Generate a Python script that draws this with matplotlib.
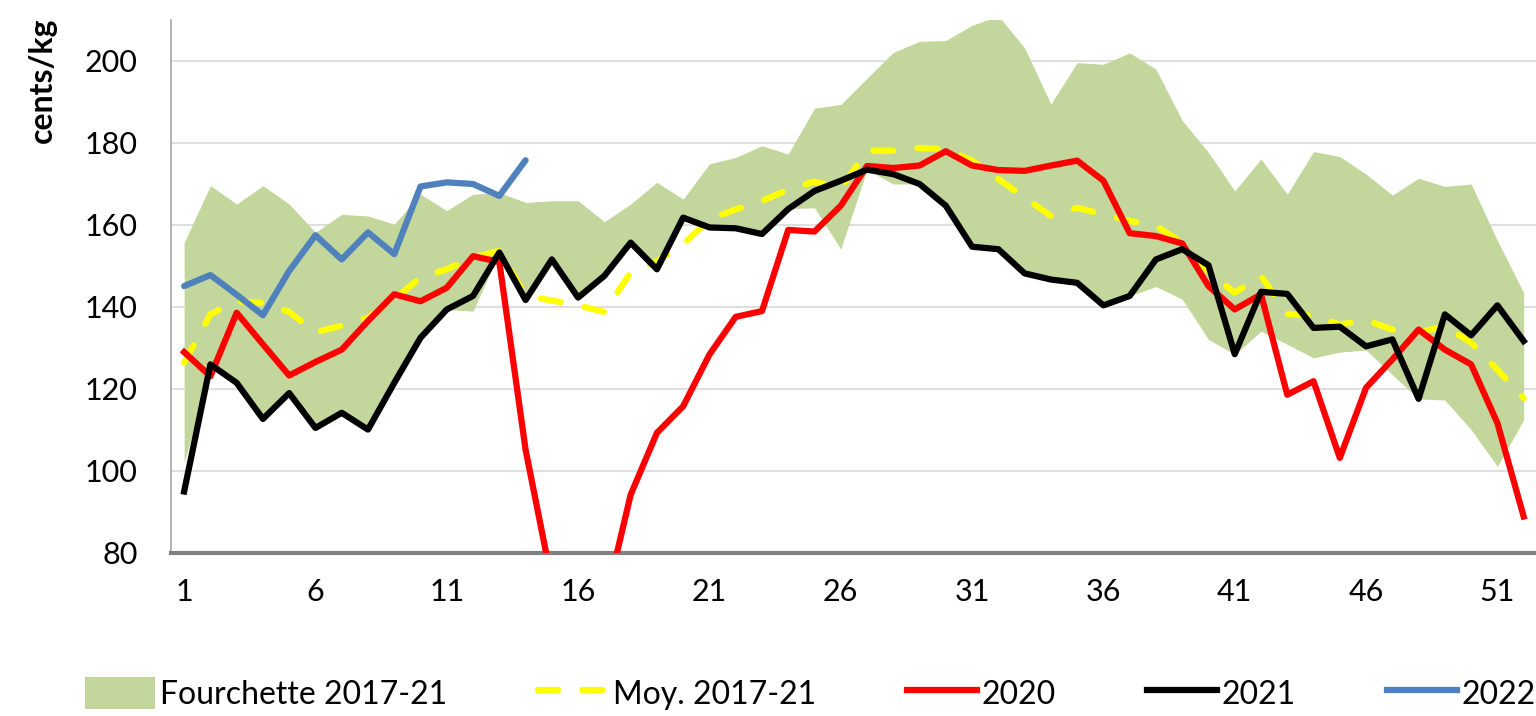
import numpy as np
import matplotlib
matplotlib.use("Agg")
import matplotlib.pyplot as plt
from matplotlib.patches import Patch
from matplotlib.lines import Line2D

plt.rcParams['font.family'] = ['Lato', 'DejaVu Sans']

# semaines
weeks = np.arange(1, 53)

# fourchette 2017-21 (max / min)
band_max = [155.7, 169.6, 165.1, 169.6, 165.1, 158.2, 162.6, 162.2, 160.2, 167.5,
            163.5, 167.5, 167.9, 165.5, 165.9, 165.9, 160.8, 165.1, 170.4, 166.3,
            174.9, 176.5, 179.3, 177.3, 188.5, 189.4, 195.8, 202.1, 204.8, 205.0,
            208.7, 211.0, 203.2, 189.5, 199.6, 199.2, 202.0, 198.0, 185.5, 177.7,
            168.3, 176.1, 167.5, 177.9, 176.7, 172.4, 167.3, 171.4, 169.4, 170.0,
            156.2, 143.5]
band_min = [102.0, 125.0, 121.5, 112.7, 119.0, 110.5, 114.2, 110.1, 121.5, 132.5,
            139.4, 139.0, 153.3, 141.7, 151.6, 142.3, 147.6, 155.7, 149.2, 161.8,
            159.4, 159.2, 157.8, 164.0, 164.2, 154.1, 173.5, 170.0, 170.0, 164.7,
            154.7, 154.1, 148.2, 146.7, 145.9, 140.4, 142.7, 145.0, 141.9, 132.1,
            128.4, 134.1, 130.9, 127.6, 129.0, 129.5, 123.5, 117.6, 117.3, 110.1,
            101.1, 112.5]

# moyenne 2017-21
moy = [126.4, 138.2, 141.4, 141.0, 138.8, 133.8, 135.5, 137.4, 141.9, 147.2,
       149.2, 152.1, 153.7, 142.7, 141.6, 140.4, 138.8, 148.4, 151.2, 155.3,
       161.4, 163.8, 165.9, 168.6, 170.6, 168.9, 178.1, 178.1, 178.8, 178.5,
       175.7, 171.2, 166.7, 162.2, 164.2, 162.6, 161.0, 159.8, 155.7, 148.5,
       143.5, 147.6, 138.3, 137.8, 135.7, 136.8, 134.5, 133.8, 135.3, 131.3,
       124.7, 117.8]

y2020 = [129.0, 123.1, 138.6, 130.9, 123.3, 126.6, 129.6, 136.6, 143.1, 141.4,
         144.7, 152.4, 151.0, 105.2, 73.0, 60.0, 67.0, 94.2, 109.3, 115.8,
         128.4, 137.6, 139.0, 158.8, 158.4, 164.7, 174.4, 173.9, 174.5, 178.0,
         174.5, 173.4, 173.2, 174.5, 175.7, 170.8, 158.0, 157.3, 155.5, 145.1,
         139.4, 143.1, 118.6, 121.9, 103.2, 120.3, 127.2, 134.5, 129.6, 126.0,
         111.7, 88.9]

y2021 = [95.0, 126.0, 121.5, 112.7, 119.0, 110.5, 114.2, 110.1, 121.5, 132.5,
         139.4, 142.7, 153.3, 141.7, 151.6, 142.3, 147.6, 155.7, 149.2, 161.8,
         159.4, 159.2, 157.8, 163.9, 168.3, 170.8, 173.5, 172.4, 170.0, 164.7,
         154.7, 154.1, 148.2, 146.7, 145.9, 140.4, 142.7, 151.6, 154.1, 150.2,
         128.5, 143.7, 143.2, 134.9, 135.2, 130.4, 132.1, 117.6, 138.2, 133.1,
         140.4, 131.7]

y2022 = [145.1, 147.8, 143.0, 138.0, 148.8, 157.5, 151.6, 158.2, 152.9, 169.4,
         170.4, 170.0, 167.1, 175.8]

c_band = '#C3D69B'
c_moy = '#FFFF00'
c_2020 = '#FF0000'
c_2021 = '#000000'
c_2022 = '#4F81BD'

fig = plt.figure(figsize=(15.36, 7.16), dpi=100)
ax = fig.add_axes([171/1536, 1 - 553/716, (1536 - 171)/1536, (553 - 20)/716])

lw = 4.5
ax.fill_between(weeks, band_min, band_max, color=c_band, lw=0, zorder=1)
l_moy, = ax.plot(weeks, moy, color=c_moy, lw=lw, zorder=2,
                 dash_capstyle='round', solid_capstyle='round')
l_moy.set_dashes([3.2, 3.9])
ax.plot(weeks, y2020, color=c_2020, lw=lw, zorder=3, solid_joinstyle='round')
ax.plot(weeks, y2021, color=c_2021, lw=lw, zorder=4, solid_joinstyle='round')
ax.plot(weeks[:len(y2022)], y2022, color=c_2022, lw=lw, zorder=5,
        solid_capstyle='round', solid_joinstyle='round')

ax.set_xlim(0.5, 52.47)
ax.set_ylim(80, 210)
ax.set_yticks(np.arange(80, 201, 20))
ax.set_xticks(np.arange(1, 53, 5))
ax.grid(axis='y', color='#D9D9D9', lw=1.2, zorder=0)
ax.set_axisbelow(True)
ax.tick_params(axis='both', length=0, labelsize=22)
ax.tick_params(axis='y', pad=24)
ax.tick_params(axis='x', pad=18)
for s in ['top', 'right']:
    ax.spines[s].set_visible(False)
ax.spines['left'].set_color('#A6A6A6')
ax.spines['left'].set_linewidth(1.2)
ax.spines['bottom'].set_color('#808080')
ax.spines['bottom'].set_linewidth(3)

fig.text(42/1536, 1 - 80/716, 'cents/kg', rotation=90, ha='center', va='center',
         fontsize=23, fontweight='bold')

handles = [Patch(facecolor=c_band, edgecolor='none'),
           Line2D([], [], color=c_moy, lw=lw, dashes=[3.2, 3.9], dash_capstyle='round'),
           Line2D([], [], color=c_2020, lw=lw),
           Line2D([], [], color=c_2021, lw=lw),
           Line2D([], [], color=c_2022, lw=lw)]
labels = ['Fourchette 2017-21', 'Moy. 2017-21', '2020', '2021', '2022']
fig.legend(handles, labels, loc='center', mode='expand',
           bbox_to_anchor=(85/1536, 0.002, 1451/1536, 0.06), ncol=5,
           frameon=False, fontsize=23, handlelength=2.2, handleheight=1.2,
           handletextpad=0.15, borderaxespad=0, borderpad=0)

fig.savefig('out.png', dpi=100)
